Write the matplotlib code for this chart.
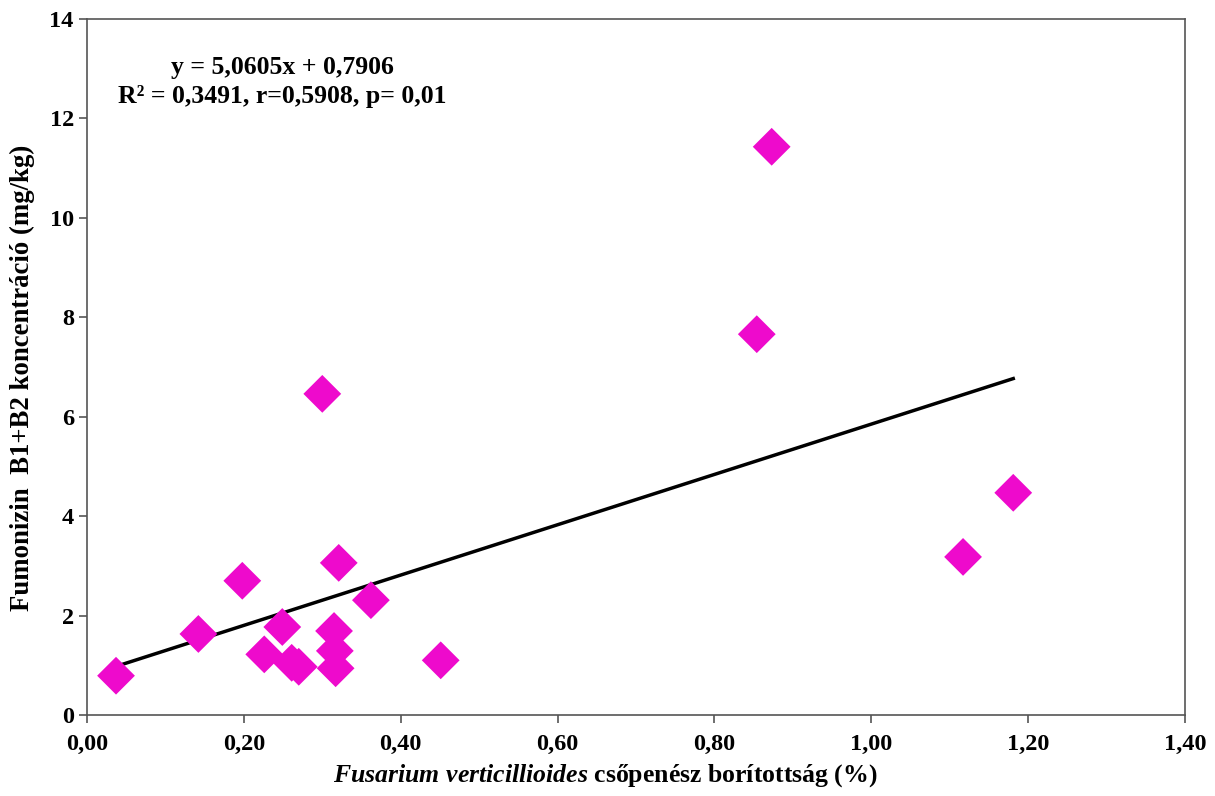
import matplotlib.pyplot as plt
import numpy as np

# F. verticillioides coverage (%) vs fumonisin B1+B2 (mg/kg)
coverage = [0.037, 0.142, 0.198, 0.226, 0.249, 0.261, 0.270, 0.315, 0.316, 0.317,
            0.321, 0.300, 0.362, 0.451, 0.854, 0.873, 1.117, 1.181]
fumonisin = [0.79, 1.63, 2.70, 1.22, 1.77, 1.05, 0.97, 1.69, 1.29, 0.94,
             3.06, 6.46, 2.31, 1.10, 7.66, 11.43, 3.18, 4.47]
slope, intercept = 5.0605, 0.7906
xticks = [0.0, 0.2, 0.4, 0.6, 0.8, 1.0, 1.2, 1.4]
yticks = [0, 2, 4, 6, 8, 10, 12, 14]

plt.rcParams['font.family'] = ['Liberation Serif', 'DejaVu Serif']
plt.rcParams['font.weight'] = 'bold'
plt.rcParams['axes.labelweight'] = 'bold'
plt.rcParams['mathtext.fontset'] = 'custom'
plt.rcParams['mathtext.it'] = 'Liberation Serif:italic:bold'
plt.rcParams['mathtext.rm'] = 'Liberation Serif:bold'

fig = plt.figure(figsize=(12.15, 7.96), dpi=100)
ax = fig.add_axes([87/1215, 1-715/796, (1185-87)/1215, (715-19)/796])

ax.scatter(coverage, fumonisin, marker='D', s=370, color='#EE0ACC', edgecolors='none', zorder=3)
xl = np.array([min(coverage), max(coverage)])
ax.plot(xl, slope*xl + intercept, color='black', lw=2.5, zorder=2)

ax.set_xlim(0, 1.4)
ax.set_ylim(0, 14)
ax.set_xticks(xticks)
ax.set_xticklabels([f'{v:.2f}'.replace('.', ',') for v in xticks])
ax.set_yticks(yticks)
ax.tick_params(labelsize=17.5, direction='out', length=6, color='#555555', width=1.2)
ax.tick_params(axis='x', pad=8)
for s in ax.spines.values():
    s.set_color('#555555')
    s.set_linewidth(1.2)

ax.set_xlabel(r'$Fusarium\ verticillioides$ csőpenész borítottság (%)', fontsize=18.5)
ax.xaxis.set_label_coords(0.472, -0.068)
ax.set_ylabel('Fumonizin  B1+B2 koncentráció (mg/kg)', fontsize=19.3)
ax.yaxis.set_label_coords(-0.047, 0.484)

ax.text(0.178, 0.947, 'y = 5,0605x + 0,7906\nR² = 0,3491, r=0,5908, p= 0,01',
        transform=ax.transAxes, ha='center', va='top', fontsize=18.5, linespacing=1.35)

fig.savefig('out.png', dpi=100)
